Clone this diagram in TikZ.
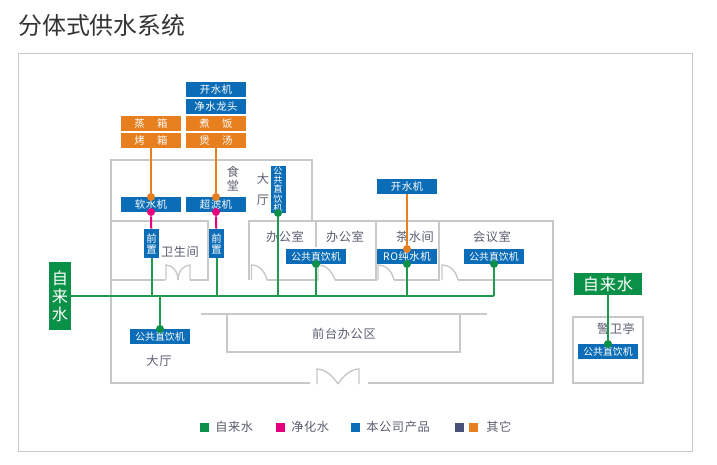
\documentclass[tikz,border=0pt]{standalone}
\usepackage{fontspec}
\setmainfont{Noto Sans CJK SC}
\newfontfamily\spaced[LetterSpace=5]{Noto Sans CJK SC}
\definecolor{tapgreen}{HTML}{0A9147}
\definecolor{pipegreen}{HTML}{1E9A50}
\definecolor{purered}{HTML}{E6007E}
\definecolor{prodblue}{HTML}{0B6DB7}
\definecolor{otherorange}{HTML}{E87F1E}
\definecolor{othernavy}{HTML}{4A5178}
\definecolor{wallgray}{HTML}{C8C8C8}
\definecolor{labelgray}{HTML}{5A5D70}
\tikzset{
  unitbox/.style={rectangle, fill=prodblue, text=white, inner sep=0pt, minimum width=15mm, minimum height=3.75mm, font=\spaced\fontsize{7.4}{8}\selectfont},
  drinkbox/.style={unitbox, font=\fontsize{7}{8}\selectfont},
  otherbox/.style={unitbox, fill=otherorange},
  prebox/.style={unitbox, minimum width=3.875mm, minimum height=7.25mm, align=center, font=\fontsize{7.4}{7.8}\selectfont},
  drinkup/.style={unitbox, minimum width=3.75mm, minimum height=11.75mm, align=center, font=\fontsize{6.5}{6.55}\selectfont},
  tapbox/.style={rectangle, fill=tapgreen, text=white, inner sep=0pt, align=center, font=\spaced\fontsize{11.5}{12.8}\selectfont},
  room/.style={text=labelgray, inner sep=0pt, align=center, font=\spaced\fontsize{8.7}{10}\selectfont},
  legendbox/.style={rectangle, inner sep=0pt, minimum size=2.25mm},
  wall/.style={draw=wallgray, line width=0.5mm},
  thinwall/.style={draw=wallgray, line width=0.35mm},
  waterdot/.style={circle, inner sep=0pt, minimum size=2mm},
  greenpipe/.style={draw=pipegreen, line width=0.5mm},
  redpipe/.style={draw=purered, line width=0.5mm},
  orangepipe/.style={draw=otherorange, line width=0.5mm}
}
\begin{document}
\begin{tikzpicture}[x=0.25mm, y=-0.25mm]
\useasboundingbox (0,0) rectangle (717,465);

\node (title) at (18,25) [anchor=west, inner sep=0pt, text=black!80, font=\fontsize{17}{18}\selectfont] {分体式供水系统};
\draw[wallgray, line width=0.25mm] (18,54) rectangle (692,451);

% building
\draw[wall] (312,220) -- (312,160) -- (111,160) -- (111,383) -- (310,383);
\draw[wall] (368,383) -- (553,383) -- (553,221) -- (249,221) -- (249,280);
\draw[wall] (111,221) -- (207.5,221) -- (207.5,280) -- (190,280);
\draw[wall] (111,280) -- (165,280);
\draw[wall] (315.7,221) -- (315.7,247);
\draw[wall] (376,221) -- (376,280) -- (335,280);
\draw[wall] (439,221) -- (439,280) -- (394,280);
\draw[wall] (267,280) -- (318,280);
\draw[wall] (458,280) -- (553,280);

% doors
\draw[thinwall] (166,280) -- (166,265) .. controls (172,265) and (178,271) .. (178,280);
\draw[thinwall] (190,280) -- (190,265) .. controls (184,265) and (178,271) .. (178,280);
\draw[thinwall] (251.5,280) -- (251.5,265) .. controls (259,265) and (265,271) .. (267,280);
\draw[thinwall] (318,280) -- (318,265) .. controls (326,265) and (332,271) .. (335,280);
\draw[thinwall] (378,280) -- (378,265) .. controls (386,265) and (392,271) .. (394,280);
\draw[thinwall] (442,280) -- (442,265) .. controls (450,265) and (456,271) .. (458,280);
\draw[thinwall] (317,384) -- (317,369) .. controls (325,369) and (333,376) .. (338,384);
\draw[thinwall] (359,384) -- (359,369) .. controls (351,369) and (343,376) .. (338,384);

% reception
\draw[thinwall] (201,314) -- (487,314);
\draw[thinwall] (227,314) -- (227,352) -- (460,352) -- (460,314);

% guard room
\draw[wall] (573,317) rectangle (643,383);

% rooms
\node (canteen) at (233,179) [room, font=\spaced\fontsize{8.7}{10}\selectfont] {食\\堂};
\node (hallup) at (263,189.5) [room, font=\spaced\fontsize{8.7}{14.9}\selectfont] {大\\厅};
\node (toilet) at (180,252) [room] {卫生间};
\node (office1) at (285,237) [room] {办公室};
\node (office2) at (345,237) [room] {办公室};
\node (tearoom) at (415,237) [room] {茶水间};
\node (meeting) at (492,237) [room] {会议室};
\node (front) at (344,334) [room] {前台办公区};
\node (halldown) at (159,361) [room] {大厅};
\node (guard) at (616,329) [room] {警卫亭};

% units
\node (boiler1) at (216,89.5) [unitbox] {开水机};
\node (faucet) at (216,106.5) [unitbox] {净水龙头};
\node (rice) at (216,123.5) [otherbox] {煮\hspace{1.2em}饭};
\node (soup) at (216,140.5) [otherbox] {煲\hspace{1.2em}汤};
\node (steam) at (151,123.5) [otherbox] {蒸\hspace{1.2em}箱};
\node (oven) at (151,140.5) [otherbox] {烤\hspace{1.2em}箱};
\node (soft) at (151,204.5) [unitbox] {软水机};
\node (ultra) at (216,204.5) [unitbox] {超滤机};
\node (pre1) at (151.5,243.5) [prebox] {前\\置};
\node (pre2) at (216.5,243.5) [prebox] {前\\置};
\node (drink1) at (278,189.5) [drinkup] {公\\共\\直\\饮\\机};
\node (drink2) at (316,256.5) [drinkbox] {公共直饮机};
\node (ro) at (407,256.5) [unitbox] {RO纯水机};
\node (boiler2) at (407,186.5) [unitbox] {开水机};
\node (drink3) at (494,256.5) [drinkbox] {公共直饮机};
\node (drink4) at (160,336.5) [drinkbox] {公共直饮机};
\node (drink5) at (608,351.5) [drinkbox] {公共直饮机};

% water sources
\node (tapleft) at (60,296) [tapbox, minimum width=5.5mm, minimum height=17mm] {自\\来\\水};
\node (tapright) at (608,284) [tapbox, minimum width=17mm, minimum height=5.5mm] {自来水};

% dots
\node (softtop) at (151,197) [waterdot, fill=otherorange] {};
\node (ultratop) at (216,197) [waterdot, fill=otherorange] {};
\node (softlow) at (151,212) [waterdot, fill=purered] {};
\node (ultralow) at (216,212) [waterdot, fill=purered] {};
\node (rotop) at (407,249) [waterdot, fill=otherorange] {};
\node (rolow) at (407,264) [waterdot, fill=tapgreen] {};
\node (drink1dot) at (278,213) [waterdot, fill=tapgreen] {};
\node (drink2dot) at (316,264) [waterdot, fill=tapgreen] {};
\node (drink3dot) at (494,264) [waterdot, fill=tapgreen] {};
\node (drink4dot) at (160,329) [waterdot, fill=tapgreen] {};
\node (drink5dot) at (608,344) [waterdot, fill=tapgreen] {};

% main pipe
\coordinate (main1) at (151.5,296);
\coordinate (main2) at (160,296);
\coordinate (main3) at (216.5,296);
\coordinate (main4) at (278,296);
\coordinate (main5) at (316,296);
\coordinate (main6) at (407,296);
\coordinate (main7) at (494,296);
\draw[greenpipe] (tapleft) -- (main7);
\draw[greenpipe] (pre1) -- (main1);
\draw[greenpipe] (pre2) -- (main3);
\draw[greenpipe] (main2) -- (drink4dot);
\draw[greenpipe] (drink1dot) -- (main4);
\draw[greenpipe] (drink2dot) -- (main5);
\draw[greenpipe] (rolow) -- (main6);
\draw[greenpipe] (drink3dot) -- (main7);
\draw[greenpipe] (tapright) -- (drink5dot);
\draw[redpipe] (softlow) -- (pre1);
\draw[redpipe] (ultralow) -- (pre2);
\draw[orangepipe] (oven) -- (softtop);
\draw[orangepipe] (soup) -- (ultratop);
\draw[orangepipe] (boiler2) -- (rotop);

% legend
\node (keytap) at (204.5,427.5) [legendbox, fill=tapgreen] {};
\node (keytaptext) at (215,427) [room, anchor=west] {自来水};
\node (keypure) at (280.5,427.5) [legendbox, fill=purered] {};
\node (keypuretext) at (291,427) [room, anchor=west] {净化水};
\node (keyprod) at (355.5,427.5) [legendbox, fill=prodblue] {};
\node (keyprodtext) at (366,427) [room, anchor=west] {本公司产品};
\node (keynavy) at (459.5,427.5) [legendbox, fill=othernavy] {};
\node (keyorange) at (473.5,427.5) [legendbox, fill=otherorange] {};
\node (keyothertext) at (486,427) [room, anchor=west] {其它};
\end{tikzpicture}
\end{document}
